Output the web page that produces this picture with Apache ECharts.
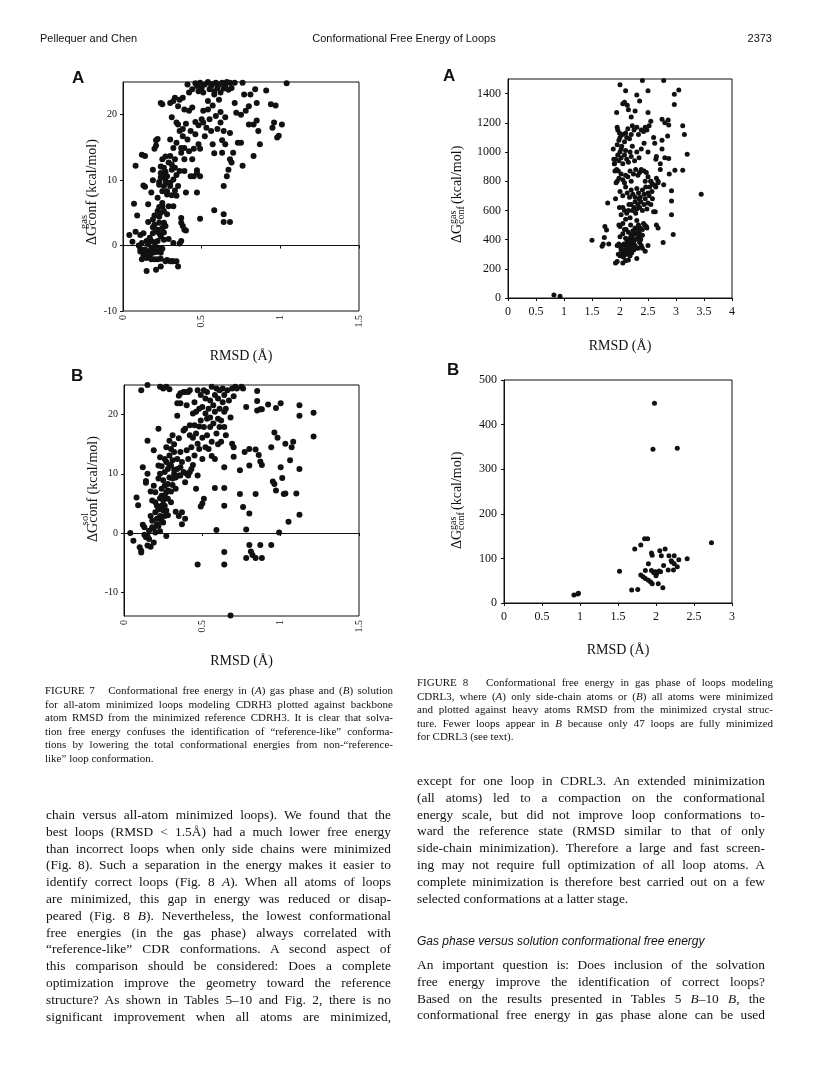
<!DOCTYPE html>
<html><head><meta charset="utf-8">
<script src="https://cdn.jsdelivr.net/npm/echarts/dist/echarts.min.js"></script>
<style>
html,body{margin:0;padding:0;background:#fff;}
#page{position:relative;width:816px;height:1090px;overflow:hidden;background:#fff;}
#chart{position:absolute;left:0;top:0;width:816px;height:1090px;}
.ln{position:absolute;white-space:nowrap;color:#111;}
</style></head>
<body><div id="page"><div id="chart"></div></div>
<script>
// ---------------- DATA ----------------
const fig7XTicks = [0, 0.5, 1, 1.5];
const fig7aYTicks = [-10, 0, 10, 20];
const fig7bYTicks = [-10, 0, 10, 20];
const fig8aXTicks = [0, 0.5, 1, 1.5, 2, 2.5, 3, 3.5, 4];
const fig8aYTicks = [0, 200, 400, 600, 800, 1000, 1200, 1400];
const fig8bXTicks = [0, 0.5, 1, 1.5, 2, 2.5, 3];
const fig8bYTicks = [0, 100, 200, 300, 400, 500];

const fig7aPoints = [
[0.04,1.6],[0.06,0.6],[0.07,6.4],[0.08,2.1],[0.09,4.6],[0.10,0],[0.11,1.6],[0.11,-0.5],[0.11,-0.9],[0.12,-2.1],[0.13,1.9],[0.13,-1.5],[0.15,0.7],[0.15,-1.9],[0.15,-3.9],[0.16,3.6],[0.16,-0.9],[0.16,0.2],[0.17,-1.6],[0.18,0.7],[0.18,-2.1],[0.19,2.8],[0.19,1.9],[0.19,-0.3],[0.19,-1.1],[0.20,4.6],[0.20,-2.1],[0.20,3.2],[0.21,-3.7],[0.21,-1.0],[0.22,0.7],[0.22,5.3],[0.22,2.4],[0.22,-2.1],[0.23,5.9],[0.23,1.9],[0.23,-0.4],[0.23,3.5],[0.24,-1.1],[0.24,-3.2],[0.24,1.4],[0.24,5.0],[0.25,2.7],[0.25,-0.5],[0.26,0.9],[0.26,3.5],[0.26,5.3],[0.27,-2.4],[0.27,3.0],[0.28,-2.2],[0.30,-2.4],[0.31,-2.4],[0.32,0.4],[0.32,-2.4],[0.34,-2.4],[0.35,-3.2],[0.36,0.3],[0.37,0.7],[0.37,4.2],[0.38,3.0],[0.39,2.4],[0.40,2.3],[0.49,4.1],
[0.14,-1.2],[0.17,1.2],[0.20,0.5],[0.21,-0.2],[0.18,-0.5],[0.12,0.4],[0.14,-0.6],[0.24,-2.0],[0.26,2.0],[0.21,2.2],[0.19,4.0],[0.23,4.4],[0.25,6.0],[0.28,4.8],[0.29,1.0],
[0.08,12.2],[0.12,13.9],[0.14,13.7],[0.13,9.2],[0.14,9.0],[0.16,6.3],[0.18,8.1],[0.19,10.0],[0.19,11.6],[0.20,14.8],[0.21,15.3],[0.21,16.1],[0.22,16.3],[0.22,7.3],[0.23,9.3],[0.23,9.7],[0.24,10.4],[0.24,11.1],[0.24,12.1],[0.25,13.2],[0.25,8.3],[0.25,6.5],[0.26,10.6],[0.26,11.9],[0.26,9.1],[0.27,9.9],[0.27,11.3],[0.27,13.6],[0.28,7.8],[0.28,9.6],[0.28,8.3],[0.28,10.6],[0.29,6.0],[0.29,12.7],[0.30,9.1],[0.30,16.2],[0.30,13.7],[0.30,9.6],[0.31,11.6],[0.31,7.7],[0.31,19.6],[0.31,12.4],[0.32,6.0],[0.32,14.9],[0.32,10.1],[0.33,11.9],[0.33,8.4],[0.33,13.2],[0.34,10.8],[0.34,7.6],[0.34,15.7],[0.35,9.1],[0.36,17.5],[0.36,11.4],[0.37,14.2],[0.37,3.5],[0.37,14.9],[0.38,16.7],[0.38,17.8],[0.39,11.4],[0.39,13.2],[0.39,14.9],[0.40,18.6],[0.40,8.1],[0.41,16.2],[0.42,20.6],[0.42,14.4],[0.43,10.6],[0.43,17.5],[0.44,21.1],[0.44,13.2],[0.45,14.8],[0.45,10.6],[0.46,18.9],[0.46,17.0],[0.47,11.5],[0.47,8.1],[0.47,11.1],[0.48,15.5],[0.48,18.4],[0.49,10.6],[0.49,14.8],[0.50,19.3],[0.51,20.6],[0.51,18.8],[0.52,16.7],[0.53,18.0],[0.54,20.8],[0.54,22.1],[0.55,19.3],[0.56,17.5],[0.57,15.5],[0.58,14.1],[0.58,5.4],[0.57,21.4],[0.59,19.8],[0.60,17.8],[0.61,22.3],[0.62,20.4],[0.62,18.8],[0.63,14.2],[0.63,16.1],[0.64,17.5],[0.64,4.8],[0.64,3.6],[0.64,9.1],[0.65,19.6],[0.65,15.5],[0.66,10.6],[0.67,11.6],[0.68,3.6],[0.68,13.2],[0.68,17.2],[0.69,12.7],[0.70,14.2],[0.71,21.8],[0.72,20.3],[0.73,15.7],[0.75,20.0],[0.75,15.7],[0.76,12.2],[0.77,23.1],[0.78,20.6],[0.80,18.5],[0.80,21.3],[0.81,23.1],[0.83,18.5],[0.83,13.7],[0.84,23.9],[0.85,19.1],[0.85,21.8],[0.86,17.5],[0.87,15.5],[0.91,23.7],[0.94,21.6],[0.95,18.0],[0.96,18.8],[0.97,21.4],[0.98,16.5],[0.99,16.8],[1.01,18.5],[1.04,24.8],
[0.41,24.6],[0.42,23.4],[0.44,23.9],[0.46,24.8],[0.47,24.4],[0.48,23.6],[0.49,24.9],[0.50,24.1],[0.51,23.4],[0.52,24.6],[0.54,25.0],[0.55,23.9],[0.56,24.4],[0.57,24.7],[0.58,23.6],[0.58,23.1],[0.59,24.9],[0.60,24.1],[0.61,24.6],[0.62,23.4],[0.63,24.9],[0.64,24.0],[0.65,24.5],[0.66,25.0],[0.67,23.8],[0.68,24.9],[0.69,24.1],[0.71,24.9],[0.76,24.9],
[0.30,21.8],[0.32,22.1],[0.33,22.6],[0.35,21.3],[0.36,22.3],[0.38,22.6],[0.39,20.8],[0.24,21.8],[0.25,21.6],[0.35,18.5],[0.34,18.8]
];

const fig7bPoints = [
[1.21,20.3],[1.21,16.3],[1.12,21.6],[1.12,19.8],[1.12,10.8],[1.12,3.1],[1.10,6.7],[1.08,15.4],[1.07,14.5],[1.06,12.3],[1.05,1.9],[1.03,15.1],[1.03,6.7],[1.02,6.6],[1.01,9.3],[1.00,11.1],[1.00,21.9],[0.99,0.1],[0.98,16.1],[0.97,21.1],[0.96,17.0],[0.95,8.7],[0.96,8.3],[0.97,7.2],[0.94,-2.0],[0.92,21.7],[0.94,14.5],[0.87,12.1],[0.86,13.2],[0.85,24.0],[0.85,22.3],[0.84,14.1],[0.85,20.7],[0.87,20.9],[0.88,20.9],[0.88,11.5],[0.87,-2.0],[0.88,-4.2],[0.84,6.6],[0.84,-4.2],[0.82,-3.7],[0.81,-3.1],[0.80,-2.0],[0.80,3.3],[0.80,11.4],[0.78,21.3],[0.80,14.2],[0.77,13.7],[0.74,6.6],[0.76,4.4],[0.74,10.6],[0.78,-4.2],[0.78,0.6],[0.70,14.5],[0.69,15.1],[0.70,12.9],[0.68,-13.9],[0.64,-3.2],[0.64,-5.3],[0.64,4.6],[0.64,7.6],[0.64,11.1],[0.58,7.6],[0.59,0.5],[0.47,-5.3],[0.50,5.0],[0.51,5.8],[0.49,4.5],[0.46,7.5],
[0.04,0],[0.06,-1.3],[0.08,6.0],[0.09,4.7],[0.10,-2.4],[0.11,-3.0],[0.11,-3.3],[0.12,11.1],[0.12,1.4],[0.13,-0.3],[0.14,-0.7],[0.15,-2.1],[0.14,8.8],[0.14,8.5],[0.15,10.0],[0.15,15.6],[0.16,0.4],[0.16,-1.0],[0.17,7.0],[0.17,2.9],[0.18,1.0],[0.18,2.1],[0.18,5.5],[0.19,8.0],[0.19,-1.6],[0.19,14.0],[0.20,0.1],[0.20,3.5],[0.20,6.9],[0.21,4.6],[0.21,2.4],[0.22,17.6],[0.22,11.4],[0.22,1.2],[0.22,9.2],[0.23,5.9],[0.23,2.9],[0.23,12.8],[0.23,10.0],[0.24,4.6],[0.24,7.5],[0.24,2.1],[0.24,11.3],[0.24,6.3],[0.25,3.8],[0.25,8.9],[0.25,1.8],[0.25,5.5],[0.26,12.5],[0.26,8.0],[0.26,4.6],[0.26,2.9],[0.26,10.3],[0.27,6.9],[0.27,-0.5],[0.27,12.0],[0.27,3.8],[0.27,14.5],[0.28,8.3],[0.28,5.8],[0.28,10.8],[0.28,7.2],[0.29,13.1],[0.29,9.4],[0.29,15.6],[0.30,5.2],[0.30,11.4],[0.30,14.2],[0.31,8.1],[0.31,12.3],[0.31,16.5],[0.31,9.2],[0.32,10.7],[0.32,13.7],[0.32,10.0],[0.33,9.4],[0.33,3.6],[0.34,19.8],[0.34,12.5],[0.34,10.8],[0.34,21.9],[0.35,9.7],[0.35,2.9],[0.36,11.1],[0.36,13.7],[0.36,21.9],[0.36,9.7],[0.37,1.5],[0.37,3.5],[0.38,17.3],[0.38,10.3],[0.39,2.4],[0.39,8.6],[0.39,23.8],[0.39,17.6],[0.40,10.0],[0.40,21.6],[0.41,9.7],[0.41,12.5],[0.41,23.8],[0.42,18.2],[0.42,16.5],[0.42,10.3],[0.42,24.1],[0.43,14.5],[0.43,10.8],[0.44,20.2],[0.44,16.1],[0.45,22.1],[0.45,13.1],[0.45,18.2],[0.46,20.5],[0.46,16.8],[0.47,24.1],[0.47,9.7],[0.47,15.1],[0.48,21.0],[0.48,14.2],[0.49,19.0],[0.49,23.3],[0.50,16.1],[0.50,21.3],[0.50,12.5],[0.51,24.1],[0.51,17.9],[0.52,20.2],[0.52,22.7],[0.53,16.5],[0.53,19.3],[0.53,23.8],[0.54,14.2],[0.54,21.0],[0.55,17.9],[0.55,22.4],[0.55,19.5],[0.56,24.7],[0.56,15.4],[0.57,21.6],[0.57,18.5],[0.58,23.3],[0.58,20.5],[0.58,12.5],[0.59,16.8],[0.59,24.4],[0.60,19.3],[0.60,22.7],[0.61,17.9],[0.61,21.0],[0.61,24.1],[0.62,15.4],[0.62,19.0],[0.63,22.1],[0.63,24.4],[0.64,20.5],[0.64,17.9],[0.64,23.3],[0.65,16.5],[0.65,21.0],[0.66,24.1],[0.67,22.4],[0.68,19.5],[0.69,24.4],[0.70,23.1],[0.71,24.7],[0.72,24.4],[0.75,24.7],[0.76,24.4],
[0.11,24.1],[0.15,25.0],[0.23,24.7],[0.25,24.4],[0.27,24.7],[0.29,24.3],[0.35,23.2],[0.36,23.6],[0.38,23.8],
[0.13,1.0],[0.15,-0.5],[0.17,-2.3],[0.19,0.8],[0.21,1.5],[0.23,0.3],[0.22,4.0],[0.20,5.2],[0.26,6.4],[0.28,3.0],[0.30,7.0],[0.33,7.5],[0.29,11.5],[0.32,15.0],[0.35,16.0],[0.37,12.0],[0.40,14.0],[0.44,11.5],[0.48,18.0],[0.52,14.5],[0.56,13.0],[0.60,15.0]
];

const fig8aPoints = [
[0.82,20],[0.93,12],
[1.50,395],[1.68,355],[1.70,370],[1.72,415],[1.73,490],[1.76,465],[1.78,650],[1.80,370],
[1.88,1020],[1.89,950],[1.90,920],[1.91,870],[1.92,680],[1.93,790],[1.94,1270],[1.95,1170],[1.96,1150],[1.97,870],[1.98,500],[1.99,620],
[2.00,1460],[2.05,1330],[2.08,1340],[2.10,1420],[2.13,1320],[2.15,1290],[2.20,1240],[2.27,1280],[2.30,1390],[2.35,1350],[2.40,1490],[2.50,1270],[2.50,1420],[2.55,1210],[2.52,1180],[2.48,1150],[2.45,1170],
[2.75,1225],[2.78,1490],[2.80,1200],[2.86,1220],[2.87,1185],[2.85,1110],[2.97,1325],[2.97,1395],[3.05,1425],[3.12,1180],[3.15,1120],[3.20,985],[3.12,875],[2.98,875],[2.87,955],[2.80,960],[2.75,1080],[2.75,1020],[2.72,880],[2.72,920],[2.88,850],[2.92,735],[2.92,665],[2.92,570],[2.95,435],[2.77,380],[2.78,775],[2.68,800],[2.64,760],[2.64,950],[2.65,970],[2.62,1060],[2.60,1100],[2.58,780],[2.68,480],[2.65,500],[2.63,590],[2.50,360],[2.45,320],[2.48,480],[3.45,710],
[1.92,240],[1.95,250],[2.05,240],[2.10,255],[2.15,260],[2.30,270],
[1.97,300],[2.00,290],[2.03,310],[2.06,280],[2.08,330],[2.12,300],[2.15,320],[2.18,290],[2.20,340],[2.25,330],[2.28,350],[2.32,340],[2.35,380],[2.38,360],[2.40,340],
[1.95,360],[1.98,370],[2.01,350],[2.04,360],[2.07,370],[2.10,360],[2.13,380],[2.16,350],[2.19,370],[2.22,390],[2.25,370],[2.28,400],[2.31,410],[2.34,420],[2.37,400],[2.40,430],
[2.00,420],[2.05,440],[2.10,410],[2.15,450],[2.20,430],[2.23,460],[2.27,440],[2.30,470],[2.33,450],[2.36,480],[2.40,470],[2.44,500],[2.47,490],[2.42,510],[2.30,530],[2.33,500],
[2.00,490],[2.05,510],[2.08,470],[2.12,400],[2.18,410],[2.22,420],[2.27,480],
[2.02,570],[2.05,620],[2.10,540],[2.12,580],[2.15,600],[2.18,550],[2.20,640],[2.22,600],[2.25,620],[2.27,660],[2.30,610],[2.32,640],[2.35,620],[2.37,660],[2.40,600],[2.43,640],[2.45,680],[2.48,610],[2.50,650],[2.52,700],[2.55,640],[2.60,590],[2.58,680],
[2.00,730],[2.05,700],[2.10,760],[2.13,720],[2.17,690],[2.20,740],[2.23,710],[2.27,690],[2.30,750],[2.33,720],[2.36,690],[2.40,740],[2.43,710],[2.46,760],[2.50,720],[2.53,760],[2.57,730],[2.62,770],[2.55,800],[2.45,800],
[1.95,800],[1.98,820],[2.02,850],[2.05,810],[2.08,790],[2.10,840],[2.14,830],[2.18,870],[2.20,800],[2.24,850],[2.28,880],[2.32,840],[2.35,860],[2.38,880],[2.43,870],[2.47,860],[2.50,830],[2.55,800],[2.65,820],[2.68,790],
[1.90,920],[1.92,950],[1.94,880],[1.96,980],[1.98,940],[2.00,1000],[2.02,960],[2.05,920],[2.08,980],[2.10,1010],[2.12,950],[2.15,930],[2.18,1000],[2.20,970],[2.22,1040],[2.26,940],[2.30,1000],[2.34,960],[2.38,1020],[2.43,1060],[2.50,1000],
[1.95,1050],[1.98,1080],[2.00,1100],[2.03,1040],[2.05,1120],[2.08,1070],[2.10,1130],[2.12,1100],[2.14,1160],[2.17,1090],[2.20,1120],[2.22,1180],[2.25,1150],[2.30,1170],[2.33,1120],[2.38,1150],[2.42,1140],
[2.02,330],[2.09,300],[2.14,340],[2.21,310],[2.26,360],[2.17,390],[2.24,440],[2.35,440],[2.11,470],[2.19,500],[2.08,600],[2.16,640],[2.28,580],[2.34,680],[2.02,1020],[1.99,1130]
];

const fig8bPoints = [
[1.98,448],[1.96,345],[2.28,347],[2.73,135],[1.85,144],[1.89,144],[1.80,130],[1.72,121],[2.12,121],[2.05,117],[1.94,112],[1.95,107],[2.07,106],[2.17,106],[2.24,106],[2.30,97],[2.41,99],[1.90,88],[2.10,84],[2.20,95],[2.24,88],[2.28,81],[2.16,74],[2.23,74],[1.86,73],[1.94,73],[1.99,70],[2.01,66],[2.06,70],[1.52,71],[1.80,63],[1.83,59],[1.86,55],[1.90,51],[1.93,47],[1.95,43],[2.00,61],[2.03,43],[2.09,34],[1.68,29],[1.76,30],[0.92,18],[0.97,20],[0.98,22],[1.97,68],[2.04,72],[2.21,92]
];

// ---------------- TEXT ----------------
const headerLeft = 'Pellequer and Chen';
const headerCenter = 'Conformational Free Energy of Loops';
const headerRight = '2373';
const caption7Lines = [
'FIGURE 7&nbsp;&nbsp; Conformational free energy in (<i>A</i>) gas phase and (<i>B</i>) solution',
'for all-atom minimized loops modeling CDRH3 plotted against backbone',
'atom RMSD from the minimized reference CDRH3. It is clear that solva-',
'tion free energy confuses the identification of “reference-like” conforma-',
'tions by lowering the total conformational energies from non-“reference-',
'like” loop conformation.'];
const caption8Lines = [
'FIGURE 8&nbsp;&nbsp; Conformational free energy in gas phase of loops modeling',
'CDRL3, where (<i>A</i>) only side-chain atoms or (<i>B</i>) all atoms were minimized',
'and plotted against heavy atoms RMSD from the minimized crystal struc-',
'ture. Fewer loops appear in <i>B</i> because only 47 loops are fully minimized',
'for CDRL3 (see text).'];
const leftBodyLines = [
'chain versus all-atom minimized loops). We found that the',
'best loops (RMSD &lt; 1.5Å) had a much lower free energy',
'than incorrect loops when only side chains were minimized',
'(Fig. 8). Such a separation in the energy makes it easier to',
'identify correct loops (Fig. 8 <i>A</i>). When all atoms of loops',
'are minimized, this gap in energy was reduced or disap-',
'peared (Fig. 8 <i>B</i>). Nevertheless, the lowest conformational',
'free energies (in the gas phase) always correlated with',
'“reference-like” CDR conformations. A second aspect of',
'this comparison should be considered: Does a complete',
'optimization improve the geometry toward the reference',
'structure? As shown in Tables 5–10 and Fig. 2, there is no',
'significant improvement when all atoms are minimized,'];
const rightBodyLines = [
'except for one loop in CDRL3. An extended minimization',
'(all atoms) led to a compaction on the conformational',
'energy scale, but did not improve loop conformations to-',
'ward the reference state (RMSD similar to that of only',
'side-chain minimization). Therefore a large and fast screen-',
'ing may not require full optimization of all loop atoms. A',
'complete minimization is therefore best carried out on a few',
'selected conformations at a latter stage.'];
const sectionHeading = 'Gas phase versus solution conformational free energy';
const rightBody2Lines = [
'An important question is: Does inclusion of the solvation',
'free energy improve the identification of correct loops?',
'Based on the results presented in Tables 5 <i>B</i>–10 <i>B</i>, the',
'conformational free energy in gas phase alone can be used'];

// ---------------- HTML TEXT ----------------
const page = document.getElementById('page');
function addLine(html, left, cy, font, width, justify, align) {
  const d = document.createElement('div');
  d.className = 'ln';
  d.style.font = font;
  d.style.lineHeight = '16px';
  d.style.top = (cy - 8) + 'px';
  d.innerHTML = html;
  page.appendChild(d);
  const w = d.getBoundingClientRect().width;
  if (align === 'center') d.style.left = (left - w / 2) + 'px';
  else if (align === 'right') d.style.left = (left - w) + 'px';
  else d.style.left = left + 'px';
  if (justify) {
    const n = (d.textContent.match(/[ \u00a0]/g) || []).length;
    if (n > 0) d.style.wordSpacing = ((width - w) / n) + 'px';
  }
}
function addBlock(lines, left, width, cy0, step, font, justifyLast) {
  lines.forEach((h, i) => addLine(h, left, cy0 + i * step, font, width, i < lines.length - 1 || justifyLast));
}
const SERIF = '"Liberation Serif", "Times New Roman", serif';
const SANS = '"Liberation Sans", Arial, sans-serif';
const BODY = '13.4px ' + SERIF;
addLine(headerLeft, 40, 38, '11px ' + SANS, 0, false);
addLine(headerCenter, 404, 38, '11px ' + SANS, 0, false, 'center');
addLine(headerRight, 772, 38, '11px ' + SANS, 0, false, 'right');
addBlock(caption7Lines, 45, 348, 690, 13.5, '11px ' + SERIF, false);
addBlock(caption8Lines, 417, 356, 682, 13.5, '11px ' + SERIF, false);
addBlock(leftBodyLines, 46, 345, 815, 16.8, BODY, true);
addBlock(rightBodyLines, 417, 348, 781, 16.8, BODY, false);
addLine(sectionHeading, 417, 941, 'italic 12px ' + SANS, 0, false);
addBlock(rightBody2Lines, 417, 348, 965, 16.8, BODY, true);

// ---------------- CHART ----------------
const chart = echarts.init(document.getElementById('chart'));
const black = '#111';
function xAx(grid, min, max, ticks, rotate, fs, margin, nameGap) {
  return {
    gridIndex: grid, type: 'value', min: min, max: max,
    axisLine: { show: true, lineStyle: { color: black, width: 1 } },
    axisTick: { show: true, inside: false, length: 3, lineStyle: { color: black }, customValues: ticks },
    axisLabel: { rotate: rotate, fontSize: fs, fontFamily: SERIF, color: black, margin: margin, customValues: ticks, formatter: v => String(v) },
    splitLine: { show: false },
    name: 'RMSD (Å)', nameLocation: 'middle', nameGap: nameGap,
    nameTextStyle: { fontFamily: SERIF, fontSize: 14, color: black }
  };
}
function yAx(grid, min, max, ticks, fs, margin) {
  return {
    gridIndex: grid, type: 'value', min: min, max: max,
    axisLine: { show: true, lineStyle: { color: black, width: 1 } },
    axisTick: { show: true, inside: false, length: 3, lineStyle: { color: black }, customValues: ticks },
    axisLabel: { fontSize: fs, fontFamily: SERIF, color: black, margin: margin, customValues: ticks, formatter: v => String(v) },
    splitLine: { show: false }
  };
}
function sc(i, data, size) {
  return { type: 'scatter', xAxisIndex: i, yAxisIndex: i, data: data, symbolSize: size,
    itemStyle: { color: black, opacity: 1 }, silent: true };
}
function gridBox(l, t, w, h) {
  return { left: l, top: t, width: w, height: h, show: true, borderColor: black, borderWidth: 1, containLabel: false };
}
function letter(t, x, y) {
  return { type: 'text', x: x, y: y, style: { text: t, font: 'bold 17px ' + SANS, fill: black, verticalAlign: 'middle' } };
}
function yTitle7(cx, cy, sup) {
  return { type: 'group', x: cx, y: cy, rotation: Math.PI / 2, children: [
    { type: 'text', x: 0, y: 0, style: { text: 'ΔGconf (kcal/mol)', font: '14px ' + SERIF, fill: black, align: 'center', verticalAlign: 'middle' } },
    { type: 'text', x: -30, y: -8, style: { text: sup, font: '10.5px ' + SERIF, fill: black, align: 'center', verticalAlign: 'middle' } }
  ] };
}
function yTitle8(cx, cy) {
  return { type: 'group', x: cx, y: cy, rotation: Math.PI / 2, children: [
    { type: 'text', x: -47, y: 0, style: { text: 'ΔG', font: '14px ' + SERIF, fill: black, align: 'left', verticalAlign: 'middle' } },
    { type: 'text', x: -28, y: -4, style: { text: 'gas', font: '10px ' + SERIF, fill: black, align: 'left', verticalAlign: 'middle' } },
    { type: 'text', x: -28, y: 4, style: { text: 'conf', font: '10px ' + SERIF, fill: black, align: 'left', verticalAlign: 'middle' } },
    { type: 'text', x: -8, y: 0, style: { text: '(kcal/mol)', font: '14px ' + SERIF, fill: black, align: 'left', verticalAlign: 'middle' } }
  ] };
}

chart.setOption({
  animation: false,
  backgroundColor: 'transparent',
  grid: [gridBox(123, 82, 236, 229), gridBox(124, 385, 235, 231), gridBox(508, 79, 224, 219), gridBox(504, 380, 228, 223)],
  xAxis: [
    xAx(0, 0, 1.5, fig7XTicks, 90, 10, 4, 38),
    xAx(1, 0, 1.5, fig7XTicks, 90, 10, 4, 38),
    xAx(2, 0, 4, fig8aXTicks, 0, 12, 8, 41),
    xAx(3, 0, 3, fig8bXTicks, 0, 12, 8, 40)
  ],
  yAxis: [
    yAx(0, -10, 25, fig7aYTicks, 10, 6),
    yAx(1, -14, 25, fig7bYTicks, 10, 6),
    yAx(2, 0, 1500, fig8aYTicks, 12, 7),
    yAx(3, 0, 500, fig8bYTicks, 12, 7)
  ],
  series: [sc(0, fig7aPoints, 6), sc(1, fig7bPoints, 6), sc(2, fig8aPoints, 5), sc(3, fig8bPoints, 5)],
  graphic: [
    letter('A', 72, 78), letter('B', 71, 376), letter('A', 443, 76), letter('B', 447, 370),
    yTitle7(92, 192, 'gas'), yTitle7(93, 489, 'sol'),
    yTitle8(457, 196), yTitle8(457, 502)
  ]
});
</script>
</body></html>
